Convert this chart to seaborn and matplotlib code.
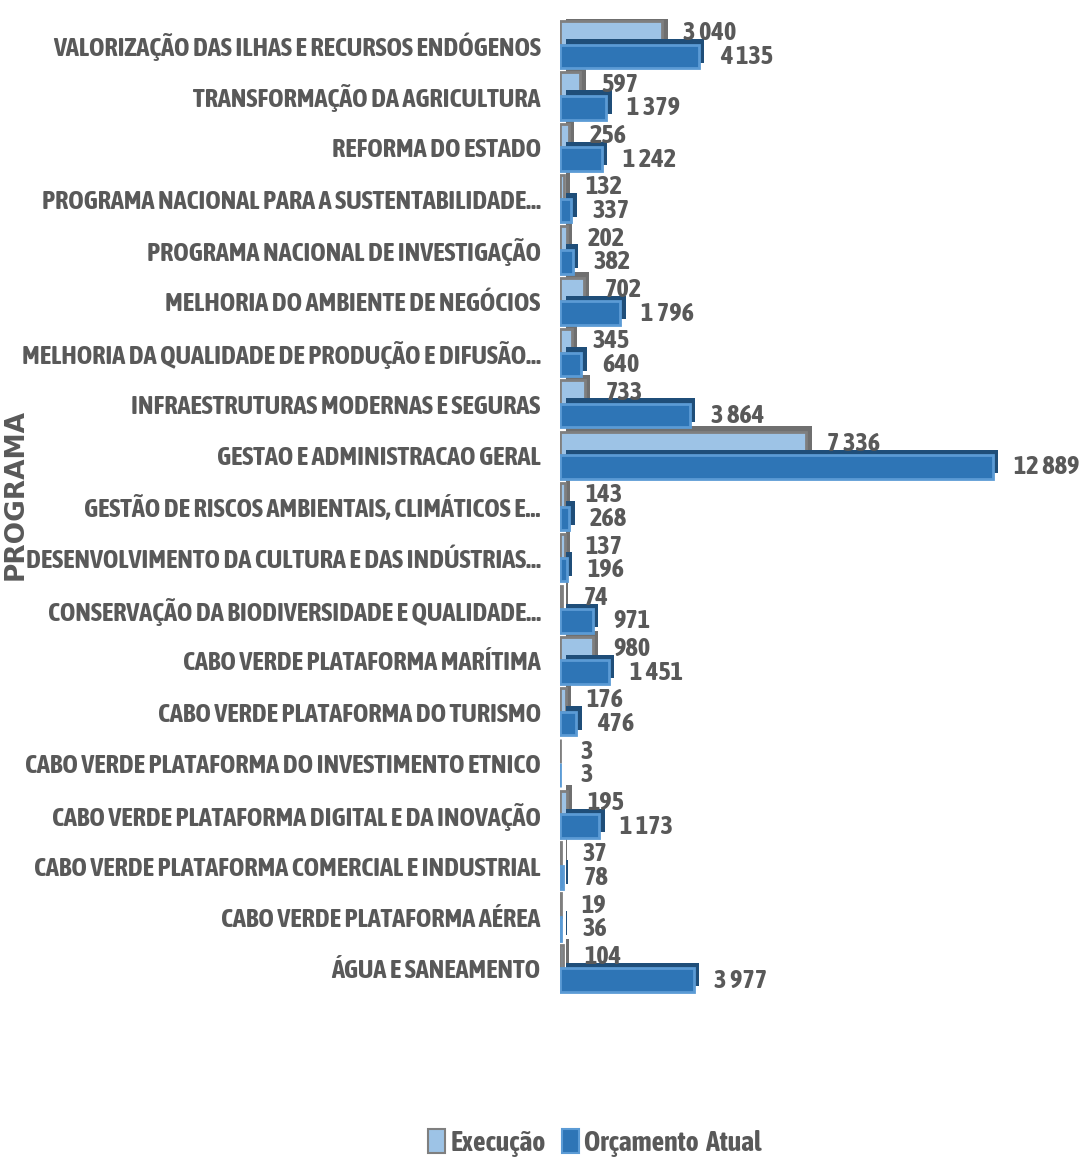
import numpy as np
import pandas as pd
import seaborn as sns
import matplotlib.pyplot as plt
import matplotlib.patheffects as pe

programas = [
    "VALORIZAÇÃO DAS ILHAS E RECURSOS ENDÓGENOS",
    "TRANSFORMAÇÃO DA AGRICULTURA",
    "REFORMA DO ESTADO",
    "PROGRAMA NACIONAL PARA A SUSTENTABILIDADE…",
    "PROGRAMA NACIONAL DE INVESTIGAÇÃO",
    "MELHORIA DO AMBIENTE DE NEGÓCIOS",
    "MELHORIA DA QUALIDADE DE PRODUÇÃO E DIFUSÃO…",
    "INFRAESTRUTURAS MODERNAS E SEGURAS",
    "GESTAO E ADMINISTRACAO GERAL",
    "GESTÃO DE RISCOS AMBIENTAIS, CLIMÁTICOS E…",
    "DESENVOLVIMENTO DA CULTURA E DAS INDÚSTRIAS…",
    "CONSERVAÇÃO DA BIODIVERSIDADE E QUALIDADE…",
    "CABO VERDE PLATAFORMA MARÍTIMA",
    "CABO VERDE PLATAFORMA DO TURISMO",
    "CABO VERDE PLATAFORMA DO INVESTIMENTO ETNICO",
    "CABO VERDE PLATAFORMA DIGITAL E DA INOVAÇÃO",
    "CABO VERDE PLATAFORMA COMERCIAL E INDUSTRIAL",
    "CABO VERDE PLATAFORMA AÉREA",
    "ÁGUA E SANEAMENTO",
]
execucao = [3040, 597, 256, 132, 202, 702, 345, 733, 7336, 143, 137, 74, 980, 176, 3, 195, 37, 19, 104]
orcamento = [4135, 1379, 1242, 337, 382, 1796, 640, 3864, 12889, 268, 196, 971, 1451, 476, 3, 1173, 78, 36, 3977]
series = ["Execução", "Orçamento  Atual"]

df = pd.DataFrame({
    "programa": programas * 2,
    "valor": execucao + orcamento,
    "serie": [series[0]] * len(programas) + [series[1]] * len(programas),
})

sns.set_style("white")
fam = ["Asap Condensed", "Archivo Narrow", "DejaVu Sans"]
txt = "#595959"

fig = plt.figure(figsize=(10.83, 11.59), dpi=100)
ax = fig.add_axes([560 / 1083, 1 - 994 / 1159, 470 / 1083, 975 / 1159])

sns.barplot(data=df, y="programa", x="valor", hue="serie", orient="h",
            order=programas, hue_order=series, saturation=1,
            palette=["#9DC3E6", "#2E75B6"], width=0.92, ax=ax, legend=True)

edges = ["#7F7F7F", "#5B9BD5"]
shadows = ["#6F6F6F", "#1F4E79"]
for i, cont in enumerate(ax.containers):
    for bar in cont:
        bar.set_edgecolor(edges[i])
        bar.set_linewidth(2)
        bar.set_path_effects([
            pe.SimplePatchShadow(offset=(4, 4), shadow_rgbFace=shadows[i], alpha=1.0),
            pe.Normal(),
        ])
    vals = execucao if i == 0 else orcamento
    labels = [f"{v:,}".replace(",", " ") for v in vals]
    ax.bar_label(cont, labels=labels, padding=15, color=txt, fontsize=19,
                 family=fam, fontweight="bold")

ax.set_xlim(0, 14000)
ax.set_ylim(18.5, -0.5)
ax.set_xticks([])
ax.set_xlabel("")
ax.set_ylabel("")
ax.tick_params(axis="y", length=0, pad=14)
for lab in ax.get_yticklabels():
    lab.set_family(fam)
    lab.set_fontsize(19)
    lab.set_fontweight("bold")
    lab.set_color(txt)
sns.despine(ax=ax, left=True, bottom=True)

fig.text(16 / 1083, 1 - 495 / 1159, "PROGRAMA", rotation=90, ha="center", va="center",
         color=txt, fontsize=19, fontweight="bold")

leg = ax.legend(loc="center", bbox_to_anchor=(595 / 1083, 1 - 1143 / 1159),
                bbox_transform=fig.transFigure, ncol=2, frameon=False,
                handlelength=0.6, handleheight=0.9, handletextpad=0.2,
                columnspacing=0.6, prop={"family": fam, "size": 20, "weight": "bold"})
for t in leg.get_texts():
    t.set_color(txt)
for h, ec in zip(leg.legend_handles, edges):
    h.set_edgecolor(ec)
    h.set_linewidth(1.5)
    h.set_path_effects([])

fig.savefig("out.png", dpi=100)
